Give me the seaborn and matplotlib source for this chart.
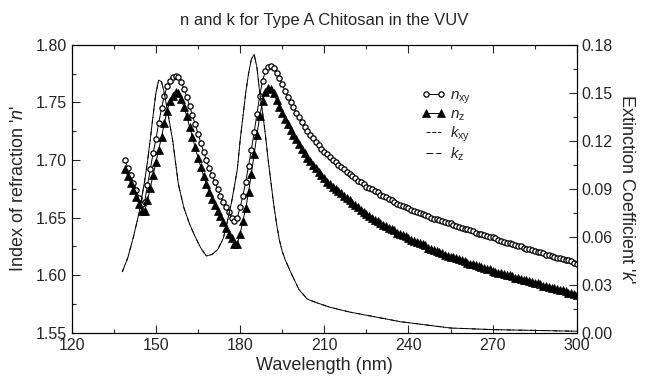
import numpy as np
import matplotlib
matplotlib.use("Agg")
import matplotlib.pyplot as plt
from matplotlib.ticker import MultipleLocator
import seaborn as sns

# wavelength grid of the n data (nm), 1 nm steps as in the figure
wavelength = list(range(139, 301))

n_xy = [
    1.700, 1.693, 1.687, 1.680, 1.674, 1.667, 1.662, 1.664, 1.678, 1.692,  # 139-148
    1.706, 1.718, 1.732, 1.745, 1.756, 1.764, 1.769, 1.772, 1.773, 1.772,  # 149-158
    1.768, 1.762, 1.755, 1.747, 1.739, 1.731, 1.723, 1.715, 1.707, 1.700,  # 159-168
    1.693, 1.687, 1.681, 1.675, 1.669, 1.664, 1.659, 1.655, 1.650, 1.647,  # 169-178
    1.650, 1.659, 1.669, 1.681, 1.695, 1.709, 1.724, 1.740, 1.756, 1.769,  # 179-188
    1.777, 1.781, 1.782, 1.780, 1.776, 1.771, 1.766, 1.760, 1.755, 1.750,  # 189-198
    1.746, 1.741, 1.737, 1.733, 1.729, 1.725, 1.722, 1.719, 1.716, 1.713,  # 199-208
    1.710, 1.707, 1.705, 1.703, 1.700, 1.698, 1.696, 1.694, 1.692, 1.690,  # 209-218
    1.688, 1.686, 1.684, 1.682, 1.681, 1.679, 1.677, 1.676, 1.675, 1.673,  # 219-228
    1.672, 1.670, 1.669, 1.668, 1.666, 1.665, 1.664, 1.662, 1.661, 1.660,  # 229-238
    1.659, 1.658, 1.657, 1.656, 1.655, 1.654, 1.653, 1.652, 1.651, 1.650,  # 239-248
    1.649, 1.649, 1.648, 1.647, 1.646, 1.645, 1.645, 1.644, 1.643, 1.642,  # 249-258
    1.641, 1.640, 1.640, 1.639, 1.638, 1.637, 1.636, 1.636, 1.635, 1.634,  # 259-268
    1.633, 1.633, 1.632, 1.631, 1.630, 1.629, 1.628, 1.628, 1.627, 1.626,  # 269-278
    1.625, 1.625, 1.624, 1.623, 1.623, 1.622, 1.621, 1.620, 1.620, 1.619,  # 279-288
    1.618, 1.618, 1.617, 1.616, 1.615, 1.615, 1.614, 1.613, 1.613, 1.612,  # 289-298
    1.611, 1.610,                                                          # 299-300
]

n_z = [
    1.692, 1.686, 1.680, 1.674, 1.668, 1.662, 1.656, 1.656, 1.665, 1.676,  # 139-148
    1.687, 1.698, 1.709, 1.720, 1.732, 1.743, 1.751, 1.756, 1.759, 1.758,  # 149-158
    1.753, 1.746, 1.738, 1.729, 1.720, 1.711, 1.702, 1.694, 1.686, 1.679,  # 159-168
    1.672, 1.666, 1.661, 1.656, 1.651, 1.646, 1.641, 1.636, 1.632, 1.627,  # 169-178
    1.627, 1.636, 1.647, 1.658, 1.672, 1.688, 1.705, 1.722, 1.738, 1.751,  # 179-188
    1.759, 1.763, 1.762, 1.758, 1.752, 1.746, 1.741, 1.736, 1.731, 1.726,  # 189-198
    1.722, 1.718, 1.714, 1.710, 1.706, 1.702, 1.699, 1.696, 1.693, 1.690,  # 199-208
    1.687, 1.684, 1.681, 1.679, 1.677, 1.675, 1.673, 1.671, 1.669, 1.667,  # 209-218
    1.665, 1.663, 1.661, 1.659, 1.657, 1.655, 1.653, 1.651, 1.650, 1.648,  # 219-228
    1.647, 1.645, 1.644, 1.643, 1.641, 1.640, 1.639, 1.637, 1.636, 1.635,  # 229-238
    1.634, 1.632, 1.631, 1.630, 1.629, 1.628, 1.627, 1.626, 1.624, 1.623,  # 239-248
    1.622, 1.621, 1.620, 1.619, 1.618, 1.617, 1.616, 1.616, 1.615, 1.614,  # 249-258
    1.613, 1.612, 1.611, 1.610, 1.610, 1.609, 1.608, 1.607, 1.606, 1.605,  # 259-268
    1.605, 1.604, 1.603, 1.602, 1.602, 1.601, 1.600, 1.600, 1.599, 1.598,  # 269-278
    1.598, 1.597, 1.596, 1.596, 1.595, 1.594, 1.593, 1.593, 1.592, 1.591,  # 279-288
    1.591, 1.590, 1.589, 1.589, 1.588, 1.587, 1.587, 1.586, 1.585, 1.585,  # 289-298
    1.584, 1.583,                                                          # 299-300
]

# extinction coefficient
k_wavelength = [138, 140, 142, 144, 146, 147, 148, 149, 150, 151, 152, 153, 154, 155,
                156, 158, 160, 162, 164, 166, 168, 170, 172, 174, 175, 177, 179, 180,
                181, 182, 183, 184, 185, 186, 187, 188, 189, 190, 191, 192, 193, 194,
                195, 196, 198, 201, 204, 207, 212, 219, 228, 237, 255, 270, 300]
k_xy = [0.038, 0.047, 0.060, 0.075, 0.095, 0.107, 0.121, 0.136, 0.150, 0.158, 0.157, 0.150,
        0.140, 0.130, 0.120, 0.093, 0.078, 0.068, 0.060, 0.053, 0.048, 0.049, 0.052, 0.059,
        0.066, 0.082, 0.102, 0.120, 0.135, 0.150, 0.162, 0.171, 0.174, 0.166, 0.150, 0.138,
        0.124, 0.108, 0.094, 0.080, 0.068, 0.058, 0.051, 0.046, 0.038, 0.027, 0.021, 0.019,
        0.016, 0.013, 0.010, 0.007, 0.003, 0.002, 0.001]
# k_z lies on top of k_xy at the resolution of the figure
k_z = list(k_xy)

sns.set_style("ticks")
plt.rcParams["font.family"] = ["Liberation Sans", "DejaVu Sans"]
plt.rcParams["mathtext.fontset"] = "custom"
plt.rcParams["mathtext.rm"] = "Liberation Sans"
plt.rcParams["mathtext.it"] = "Liberation Sans:italic"

fig = plt.figure(figsize=(6.46, 3.87), dpi=100)
ax = fig.add_axes([0.111, 0.14, 0.782, 0.744])
ax2 = ax.twinx()

sns.lineplot(x=wavelength, y=n_xy, ax=ax, color="black", lw=0.7, marker="o",
             markersize=3.8, markerfacecolor="white", markeredgecolor="black",
             markeredgewidth=0.9, label=r"$n_{\rm xy}$", legend=False)
sns.lineplot(x=wavelength, y=n_z, ax=ax, color="black", lw=0.7, marker="^",
             markersize=5.3, markerfacecolor="black", markeredgecolor="black",
             markeredgewidth=0.5, label=r"$n_{\rm z}$", legend=False)
sns.lineplot(x=k_wavelength, y=k_xy, ax=ax2, color="black", lw=0.7,
             linestyle=(0, (4, 2)), label=r"$k_{\rm xy}$", legend=False)
sns.lineplot(x=k_wavelength, y=k_z, ax=ax2, color="black", lw=0.7,
             linestyle=(2, (9, 3)), label=r"$k_{\rm z}$", legend=False)

ax.set_xlim(120, 300)
ax.set_ylim(1.55, 1.80)
ax2.set_ylim(0.0, 0.18)
ax.xaxis.set_major_locator(MultipleLocator(30))
ax.xaxis.set_minor_locator(MultipleLocator(15))
ax.yaxis.set_major_locator(MultipleLocator(0.05))
ax.yaxis.set_minor_locator(MultipleLocator(0.025))
ax2.yaxis.set_major_locator(MultipleLocator(0.03))
ax2.yaxis.set_minor_locator(MultipleLocator(0.015))
ax.yaxis.set_major_formatter(plt.FormatStrFormatter("%.2f"))
ax2.yaxis.set_major_formatter(plt.FormatStrFormatter("%.2f"))

ax.tick_params(which="both", direction="in", top=True, labelsize=11.5, width=0.8)
ax.tick_params(which="major", length=6)
ax.tick_params(which="minor", length=3)
ax2.tick_params(which="both", direction="in", labelsize=11.5, width=0.8)
ax2.tick_params(which="major", length=6)
ax2.tick_params(which="minor", length=3)
for a in (ax, ax2):
    for s in a.spines.values():
        s.set_linewidth(0.8)
        s.set_color("black")

ax.set_xlabel("Wavelength (nm)", fontsize=13, labelpad=3)
ax.set_ylabel("Index of refraction '$n$'", fontsize=13, labelpad=6)
ax2.set_ylabel("Extinction Coefficient '$k$'", fontsize=13, rotation=270, labelpad=16)
ax.set_title("n and k for Type A Chitosan in the VUV", fontsize=12, pad=14)

h1, l1 = ax.get_legend_handles_labels()
h2, l2 = ax2.get_legend_handles_labels()
ax2.legend(h1 + h2, l1 + l2, loc="upper left", bbox_to_anchor=(0.68, 0.87),
           frameon=False, fontsize=11, handlelength=1.6, handletextpad=0.3,
           labelspacing=0.1, numpoints=2, borderaxespad=0)

fig.savefig("out.png", dpi=100)
